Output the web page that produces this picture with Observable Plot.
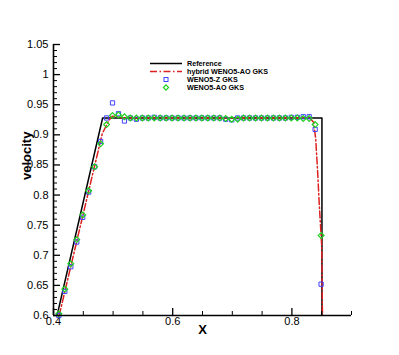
<!DOCTYPE html>
<html><head><meta charset="utf-8">
<script src="https://cdn.jsdelivr.net/npm/d3@7"></script>
<script src="https://cdn.jsdelivr.net/npm/@observablehq/plot@0.6"></script>
<style>
body{margin:0;background:#fff}
#wrap{position:relative;width:399px;height:355px;font-family:"Liberation Sans",Arial,sans-serif}
#legend{position:absolute;left:0;top:0;pointer-events:none}
</style>
</head><body><div id="wrap"></div>
<script>
// marker abscissae (cell centres)
const markerX = [0.409,0.419,0.429,0.439,0.449,0.459,0.469,0.479,0.489,0.499,
  0.509,0.519,0.529,0.539,0.549,0.559,0.569,0.579,0.589,0.599,
  0.609,0.619,0.629,0.639,0.649,0.659,0.669,0.679,0.689,0.699,
  0.709,0.719,0.729,0.739,0.749,0.759,0.769,0.779,0.789,0.799,
  0.809,0.819,0.829,0.839,0.849];
// WENO5-Z GKS
const wenoZ = [0.600,0.640,0.681,0.722,0.763,0.805,0.847,0.889,0.928,0.953,
  0.935,0.923,0.928,0.926,0.928,0.928,0.929,0.928,0.928,0.928,
  0.928,0.928,0.928,0.928,0.928,0.928,0.928,0.928,0.926,0.925,
  0.928,0.928,0.928,0.928,0.928,0.928,0.928,0.928,0.928,0.929,
  0.929,0.930,0.930,0.909,0.652];
// WENO5-AO GKS
const wenoAO = [0.603,0.644,0.686,0.726,0.767,0.807,0.847,0.885,0.917,0.932,
  0.933,0.930,0.928,0.928,0.928,0.928,0.928,0.928,0.928,0.928,
  0.928,0.928,0.928,0.928,0.928,0.928,0.928,0.928,0.927,0.926,
  0.926,0.928,0.928,0.928,0.928,0.928,0.928,0.928,0.928,0.928,
  0.928,0.927,0.927,0.917,0.733];
// Reference
const refX = [0.406,0.4824,0.8504,0.8504];
const refY = [0.600,0.928,0.928,0.600];
// hybrid WENO5-AO GKS
const hybX = [0.4095,0.4818,0.4929,0.4986,0.506,0.515,0.830,0.8363,0.840,0.8432,0.846,0.850,0.8513];
const hybY = [0.600,0.902,0.924,0.931,0.930,0.928,0.928,0.921,0.893,0.838,0.783,0.716,0.600];
// ticks
const xMajor = [0.4,0.6,0.8];
const xMinor = [0.45,0.5,0.55,0.65,0.7,0.75,0.85,0.9];
const yMajor = [0.6,0.65,0.7,0.75,0.8,0.85,0.9,0.95,1,1.05];
const yMinor = d3.range(0,46).map(i => +(0.6 + i*0.01).toFixed(2)).filter(v => !yMajor.includes(v));
const seriesNames = ["Reference","hybrid WENO5-AO GKS","WENO5-Z GKS","WENO5-AO GKS"];

const W = 399, H = 355, mt = 44, mb = 40, ml = 53, mr = 48;
const innerW = W - ml - mr, innerH = H - mt - mb;
const fmt = d => String(+d.toFixed(2));
const ref = refX.map((x,i) => ({x, y: refY[i]}));
const hyb = hybX.map((x,i) => ({x, y: hybY[i]}));
const zPts = markerX.map((x,i) => ({x, y: wenoZ[i]}));
const aoPts = markerX.map((x,i) => ({x, y: wenoAO[i]}));
const RED = "#dd2020", BLUE = "#4040ff", GREEN = "#20d020";

const chart = Plot.plot({
  width: W, height: H,
  marginTop: mt, marginBottom: mb, marginLeft: ml, marginRight: mr,
  x: {domain: [0.4, 0.9]},
  y: {domain: [0.6, 1.05]},
  style: {fontFamily: '"Liberation Sans", Arial, sans-serif', fontSize: "11px", background: "white", color: "black"},
  marks: [
    Plot.axisX(xMajor, {tickSize: 0, tickPadding: 2, tickFormat: fmt, label: null, fontSize: 11}),
    Plot.axisY(yMajor, {tickSize: 0, tickPadding: 5, tickFormat: fmt, label: null, fontSize: 11}),
    Plot.line(ref, {x: "x", y: "y", stroke: "black", strokeWidth: 1.5, clip: true}),
    Plot.line(hyb, {x: "x", y: "y", stroke: RED, strokeWidth: 1.5, strokeDasharray: "7,2.5,1.5,2.5", clip: true}),
    Plot.dot(zPts, {x: "x", y: "y", symbol: "square", r: 2.4, stroke: BLUE, fill: "none", strokeWidth: 1}),
    Plot.dot(aoPts, {x: "x", y: "y", symbol: "diamond2", r: 2.6, stroke: GREEN, fill: "none", strokeWidth: 1.2}),
    Plot.tickX(xMajor, {x: d => d, insetTop: innerH - 7, stroke: "black", strokeWidth: 1.3}),
    Plot.tickX(xMinor, {x: d => d, insetTop: innerH - 4, stroke: "black", strokeWidth: 1}),
    Plot.tickY(yMajor, {y: d => d, insetRight: innerW - 7, stroke: "black", strokeWidth: 1.3}),
    Plot.tickY(yMinor, {y: d => d, insetRight: innerW - 4, stroke: "black", strokeWidth: 1}),
    Plot.ruleX([0.4], {stroke: "black", strokeWidth: 1.6}),
    Plot.ruleY([0.6], {stroke: "black", strokeWidth: 1.6}),
    Plot.text(["velocity"], {text: d => d, frameAnchor: "left", dx: -27, rotate: -90, fontSize: 13, fontWeight: "bold"}),
    Plot.text(["X"], {text: d => d, frameAnchor: "bottom", dy: 18, fontSize: 13, fontWeight: "bold"})
  ]
});
const wrap = document.getElementById("wrap");
wrap.appendChild(chart);

// legend overlay
const ns = "http://www.w3.org/2000/svg";
const lg = document.createElementNS(ns, "svg");
lg.setAttribute("id", "legend");
lg.setAttribute("width", W); lg.setAttribute("height", H);
const rows = [63.5, 71.5, 79.5, 87.5];
const x0 = 150, x1 = 182, xs = 166, xt = 187;
function el(tag, attrs) { const e = document.createElementNS(ns, tag); for (const k in attrs) e.setAttribute(k, attrs[k]); lg.appendChild(e); return e; }
el("line", {x1: x0, x2: x1, y1: rows[0], y2: rows[0], stroke: "black", "stroke-width": 1.5});
el("line", {x1: x0, x2: x1, y1: rows[1], y2: rows[1], stroke: RED, "stroke-width": 1.5, "stroke-dasharray": "7,2.5,1.5,2.5"});
el("rect", {x: xs - 2, y: rows[2] - 2, width: 4, height: 4, stroke: BLUE, fill: "none", "stroke-width": 1});
el("path", {d: `M${xs},${rows[3]-2.6}L${xs+2.6},${rows[3]}L${xs},${rows[3]+2.6}L${xs-2.6},${rows[3]}Z`, stroke: GREEN, fill: "none", "stroke-width": 1.2});
seriesNames.forEach((n, i) => {
  const t = el("text", {x: xt, y: rows[i], "dominant-baseline": "central", "font-size": 7.2, "font-weight": "bold", "font-family": '"Liberation Sans", Arial, sans-serif', fill: "black"});
  t.textContent = n;
});
wrap.appendChild(lg);
</script>
</body></html>
